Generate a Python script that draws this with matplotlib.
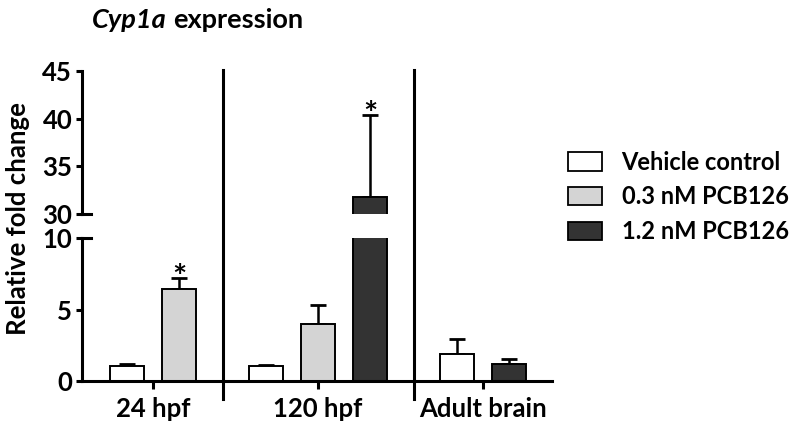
import matplotlib
matplotlib.use("Agg")
import matplotlib.pyplot as plt
from matplotlib.patches import Patch
from matplotlib.lines import Line2D
import matplotlib.transforms as mtransforms

plt.rcParams['font.family'] = ['Lato', 'DejaVu Sans']
plt.rcParams['font.weight'] = 'bold'

groups = ['24 hpf', '120 hpf', 'Adult brain']
series = ['Vehicle control', '0.3 nM PCB126', '1.2 nM PCB126']
colors = ['#ffffff', '#d4d4d4', '#333333']
vehicle_mean = [1.0, 1.0, 1.91]
vehicle_err = [0.15, 0.07, 1.05]
pcb03_mean = [6.41, 4.01, None]
pcb03_err = [0.82, 1.28, None]
pcb12_mean = [None, 31.8, 1.17]
pcb12_err = [None, 8.6, 0.35]
pcb03_sig = [True, False, False]
pcb12_sig = [False, True, False]

means = [vehicle_mean, pcb03_mean, pcb12_mean]
errs = [vehicle_err, pcb03_err, pcb12_err]
sigs = [[False] * 3, pcb03_sig, pcb12_sig]

W, H = 800, 432
fig = plt.figure(figsize=(W / 100, H / 100), dpi=100)

def fx(px):
    return px / W

def fy(py):
    return 1 - py / H

left_px, right_px = 82, 552
ax_b = fig.add_axes([fx(left_px), fy(380.7), fx(right_px - left_px), fy(238.3) - fy(380.7)])
ax_t = fig.add_axes([fx(left_px), fy(214.3), fx(right_px - left_px), fy(70.7) - fy(214.3)])

bar_w = 0.66
group_gap = 1.67
bars = []  # (pos, mean, err, color, sig)
group_centers = []
group_bounds = []
pos = 0.0
for gi, g in enumerate(groups):
    start = None
    last = None
    for si in range(len(series)):
        m = means[si][gi]
        if m is None:
            continue
        if start is None:
            start = pos
        bars.append((pos, m, errs[si][gi], colors[si], sigs[si][gi]))
        last = pos
        pos += 1
    group_centers.append((start + last) / 2)
    group_bounds.append((start, last))
    pos = last + group_gap

xmin = (left_px - 127.3) / 52
xmax = (right_px - 127.3) / 52

lw_axis = 2.2
for ax, (lo, hi) in [(ax_b, (0, 10)), (ax_t, (30, 45))]:
    for (p, m, e, c, s) in bars:
        ax.bar(p, m, width=bar_w, color=c, edgecolor='black', linewidth=1.4, zorder=2)
        ax.errorbar(p, m, yerr=[[0], [e]], fmt='none', ecolor='black',
                    elinewidth=1.8, capsize=5.8, capthick=2.0, zorder=1)
    ax.set_ylim(lo, hi)
    ax.set_xlim(xmin, xmax)
    ax.spines['top'].set_visible(False)
    ax.spines['right'].set_visible(False)
    ax.spines['left'].set_linewidth(lw_axis)
    ax.tick_params(axis='y', direction='out', length=4.5, width=lw_axis, labelsize=18.5, pad=2.5)
    ax.patch.set_alpha(0)

ax_b.spines['bottom'].set_linewidth(lw_axis)
ax_t.spines['bottom'].set_visible(False)
ax_t.set_xticks([])
ax_b.set_yticks([0, 5, 10])
ax_t.set_yticks([30, 35, 40, 45])
ax_b.set_xticks(group_centers)
ax_b.set_xticklabels(groups)
ax_b.tick_params(axis='x', direction='out', length=5.5, width=lw_axis, labelsize=18.5, pad=6)

# break marks: ticks crossing the spine at 10 and 30
trans_b = mtransforms.blended_transform_factory(fig.transFigure, ax_b.transData)
trans_t = mtransforms.blended_transform_factory(fig.transFigure, ax_t.transData)
fig.add_artist(Line2D([fx(left_px), fx(left_px + 9)], [10, 10], transform=trans_b,
                      color='black', linewidth=lw_axis, clip_on=False))
fig.add_artist(Line2D([fx(left_px), fx(left_px + 9)], [30, 30], transform=trans_t,
                      color='black', linewidth=lw_axis, clip_on=False))

# significance stars
for ax, (lo, hi) in [(ax_b, (0, 10)), (ax_t, (30, 45))]:
    for (p, m, e, c, s) in bars:
        top = m + e
        if s and lo <= top <= hi:
            ax.annotate('*', xy=(p, top), xytext=(0, -11), textcoords='offset points',
                        ha='center', va='bottom', fontsize=24, fontweight='bold')

# group separators
sep_trans = mtransforms.blended_transform_factory(ax_b.transData, fig.transFigure)
for gi in range(len(groups) - 1):
    xs = (group_bounds[gi][1] + group_bounds[gi + 1][0]) / 2
    fig.add_artist(Line2D([xs, xs], [fy(399), fy(70)], transform=sep_trans,
                          color='black', linewidth=2.2))

# y label
fig.text(fx(18), fy(219), 'Relative fold change', rotation=90, ha='center', va='center',
         fontsize=18.5, fontweight='bold')

# title
t1 = fig.text(fx(92), fy(28.3), 'Cyp1a', fontsize=19.5, fontweight='bold', style='italic',
              ha='left', va='baseline')
fig.canvas.draw()
ex = t1.get_window_extent()
fig.text((ex.x1 + 6) / W, fy(28.3), 'expression', fontsize=19.5, fontweight='bold',
         ha='left', va='baseline')

# legend
handles = [Patch(facecolor=c, edgecolor='black', linewidth=1.3) for c in colors]
fig.legend(handles, series, loc='center left', bbox_to_anchor=(fx(568), fy(197)),
           frameon=False, fontsize=17, handlelength=1.44, handleheight=0.8,
           handletextpad=0.83, labelspacing=0.5, borderpad=0, borderaxespad=0)

fig.savefig('out.png', dpi=100)
